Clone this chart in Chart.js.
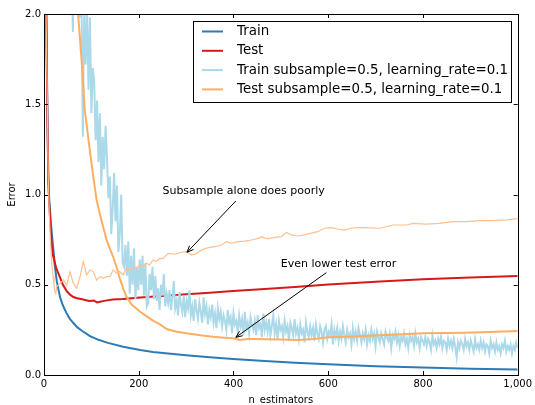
<!DOCTYPE html>
<html>
<head>
<meta charset="utf-8">
<script src="https://cdn.jsdelivr.net/npm/chart.js@4.4.1/dist/chart.umd.min.js"></script>
<style>
  html, body { margin: 0; padding: 0; background: #fff; }
  canvas { display: block; }
</style>
</head>
<body>
<canvas id="myChart" width="535" height="405"></canvas>
<script>
// Train (no subsample)
var trainX = [0, 3, 5, 7, 9, 11, 13, 15, 18, 20, 23, 27, 30, 34, 40, 48, 55, 62, 70, 80, 97, 115, 135, 167, 203, 230, 262, 300, 350, 399, 466, 530, 600, 700, 800, 900, 1000]
var trainY = [2.6, 2.25, 2.0, 1.5, 1.12, 0.97, 0.9, 0.83, 0.74, 0.69, 0.6, 0.52, 0.48, 0.43, 0.385, 0.34, 0.31, 0.288, 0.265, 0.245, 0.215, 0.195, 0.178, 0.157, 0.138, 0.128, 0.119, 0.11, 0.098, 0.089, 0.078, 0.068, 0.059, 0.049, 0.041, 0.035, 0.031]

// Test (no subsample)
var testX = [0, 3, 5, 7, 9, 11, 13, 15, 17, 19, 21, 23, 26, 30, 34, 40, 48, 55, 62, 70, 83, 95, 105, 112, 118, 130, 145, 167, 185, 203, 250, 301, 350, 399, 466, 530, 600, 700, 800, 900, 1000]
var testY = [2.6, 2.2, 1.95, 1.45, 1.08, 0.95, 0.86, 0.78, 0.7, 0.66, 0.645, 0.62, 0.59, 0.565, 0.54, 0.5, 0.465, 0.445, 0.432, 0.425, 0.418, 0.41, 0.413, 0.402, 0.406, 0.412, 0.418, 0.421, 0.425, 0.43, 0.437, 0.447, 0.455, 0.465, 0.476, 0.488, 0.502, 0.516, 0.53, 0.54, 0.548]

// Train subsample=0.5, learning_rate=0.1 (noisy): a few early points, then one value every 3 estimators from 55 to 1000
var subTrainHeadX = [0, 20, 40]
var subTrainHeadY = [3.2, 2.9, 2.6]
var subTrainStart = 55, subTrainStep = 3
var subTrainY = [
  2.45, 2.3, 1.9, 2.35, 2.2, 2.05, 2.25, 1.98, 2.12, 1.32,
  2.05, 1.72, 2.02, 1.58, 1.98, 1.45, 1.7, 1.62, 1.3, 1.52,
  1.18, 1.45, 1.05, 1.32, 1.14, 1.38, 1.2, 0.98, 1.1, 0.78,
  0.92, 1.12, 0.85, 1.05, 0.68, 0.78, 1.0, 0.62, 0.6, 0.72,
  0.55, 0.74, 0.45, 0.66, 0.5, 0.7, 0.42, 0.6, 0.47, 0.64,
  0.5, 0.66, 0.44, 0.62, 0.38, 0.4, 0.56, 0.47, 0.6, 0.42,
  0.55, 0.41, 0.48, 0.36, 0.5, 0.44, 0.56, 0.38, 0.45, 0.4,
  0.47, 0.36, 0.43, 0.52, 0.37, 0.41, 0.33, 0.46, 0.39, 0.35,
  0.44, 0.32, 0.41, 0.37, 0.47, 0.33, 0.38, 0.3, 0.42, 0.36,
  0.31, 0.4, 0.35, 0.29, 0.43, 0.34, 0.38, 0.28, 0.36, 0.32,
  0.39, 0.29, 0.34, 0.26, 0.37, 0.31, 0.35, 0.27, 0.33, 0.3,
  0.25, 0.36, 0.29, 0.32, 0.23, 0.34, 0.28, 0.3, 0.24, 0.33,
  0.27, 0.31, 0.22, 0.35, 0.26, 0.29, 0.23, 0.32, 0.28, 0.25,
  0.3, 0.22, 0.33, 0.26, 0.28, 0.21, 0.34, 0.25, 0.29, 0.24,
  0.31, 0.22, 0.27, 0.33, 0.23, 0.28, 0.2, 0.3, 0.25, 0.27,
  0.21, 0.3, 0.24, 0.27, 0.19, 0.29, 0.26, 0.22, 0.31, 0.23,
  0.26, 0.2, 0.28, 0.23, 0.25, 0.18, 0.29, 0.24, 0.21, 0.27,
  0.22, 0.26, 0.19, 0.28, 0.23, 0.2, 0.27, 0.24, 0.18, 0.25,
  0.27, 0.2, 0.24, 0.22, 0.28, 0.17, 0.25, 0.21, 0.26, 0.19,
  0.24, 0.2, 0.27, 0.22, 0.18, 0.25, 0.21, 0.23, 0.17, 0.26,
  0.2, 0.24, 0.19, 0.26, 0.22, 0.18, 0.23, 0.2, 0.25, 0.17,
  0.22, 0.19, 0.25, 0.2, 0.23, 0.16, 0.24, 0.21, 0.18, 0.23,
  0.2, 0.17, 0.24, 0.21, 0.19, 0.23, 0.15, 0.22, 0.2, 0.24,
  0.18, 0.22, 0.16, 0.21, 0.19, 0.23, 0.17, 0.2, 0.15, 0.22,
  0.19, 0.21, 0.16, 0.23, 0.18, 0.2, 0.15, 0.21, 0.19, 0.17,
  0.21, 0.16, 0.2, 0.18, 0.14, 0.22, 0.17, 0.19, 0.15, 0.2,
  0.17, 0.21, 0.15, 0.19, 0.18, 0.14, 0.2, 0.16, 0.19, 0.15,
  0.2, 0.16, 0.1, 0.18, 0.15, 0.19, 0.17, 0.14, 0.2, 0.16,
  0.18, 0.14, 0.19, 0.16, 0.13, 0.2, 0.15, 0.17, 0.14, 0.19,
  0.15, 0.18, 0.13, 0.17, 0.16, 0.12, 0.19, 0.15, 0.17, 0.13,
  0.18, 0.14, 0.16, 0.12, 0.17, 0.15, 0.19, 0.13, 0.16, 0.14,
  0.17, 0.12, 0.16, 0.14, 0.18, 0.15]

// Test subsample=0.5, learning_rate=0.1
var subTestX = [0, 20, 40, 60, 72, 80, 86, 95, 104, 111, 118, 125, 132, 139, 146, 153, 160, 167, 174, 185, 203, 217, 231, 245, 259, 280, 301, 330, 357, 380, 399, 413, 430, 450, 466, 500, 536, 570, 600, 640, 677, 710, 747, 800, 850, 888, 940, 1000]
var subTestY = [3.0, 2.75, 2.45, 2.2, 2.0, 1.72, 1.47, 1.28, 1.1, 0.97, 0.89, 0.82, 0.75, 0.7, 0.655, 0.6, 0.535, 0.48, 0.434, 0.39, 0.35, 0.325, 0.3, 0.28, 0.255, 0.24, 0.231, 0.22, 0.212, 0.207, 0.203, 0.194, 0.2, 0.199, 0.198, 0.197, 0.194, 0.2, 0.209, 0.212, 0.216, 0.22, 0.225, 0.231, 0.232, 0.234, 0.238, 0.244]

// Test subsample alone (no shrinkage), not in legend
var subOnlyX = [0, 3, 5, 7, 9, 11, 13, 15, 17, 19, 21, 23, 25, 27, 34, 41, 48, 55, 62, 69, 76, 83, 90, 97, 104, 111, 118, 125, 132, 139, 146, 153, 160, 167, 174, 181, 188, 195, 202, 209, 216, 223, 230, 237, 244, 251, 262,
  276, 290, 302, 311, 322, 333, 347, 361, 375, 385, 396, 410, 424, 438, 452, 459, 473, 487, 501, 512, 522, 536, 550, 564, 578, 592, 606, 620, 634, 648, 662, 676, 709, 737, 765, 779, 807, 835, 863, 891, 920, 948, 976, 1000]
var subOnlyY = [2.6, 2.2, 1.9, 1.5, 1.1, 0.9, 0.78, 0.68, 0.6, 0.55, 0.5, 0.46, 0.45, 0.49, 0.508, 0.526, 0.498, 0.572, 0.508, 0.48, 0.545, 0.628, 0.554, 0.582, 0.573, 0.526, 0.545, 0.536, 0.545, 0.545, 0.582, 0.563, 0.573, 0.554, 0.591, 0.582, 0.6, 0.591, 0.61, 0.6, 0.619, 0.61, 0.637, 0.628, 0.646, 0.645, 0.674,
  0.669, 0.68, 0.684, 0.665, 0.674, 0.693, 0.706, 0.711, 0.72, 0.739, 0.73, 0.739, 0.742, 0.748, 0.757, 0.765, 0.754, 0.762, 0.767, 0.79, 0.776, 0.77, 0.776, 0.786, 0.794, 0.813, 0.816, 0.809, 0.803, 0.813, 0.816, 0.816, 0.813, 0.831, 0.831, 0.84, 0.836, 0.84, 0.85, 0.85, 0.855, 0.855, 0.859, 0.866]

var legendLabels = ['Train', 'Test', 'Train subsample=0.5, learning_rate=0.1', 'Test subsample=0.5, learning_rate=0.1']
var xTicks = [0, 200, 400, 600, 800, 1000]
var yTicks = [0, 0.5, 1.0, 1.5, 2.0]

var BLUE = '#2c7bb6', RED = '#d7191c', LIGHTBLUE = '#abd9e9', ORANGE = '#fdae61', LIGHTORANGE = '#fdc08e'
var FONT = 'DejaVu Sans'

function pts(xs, ys) { return xs.map(function (x, i) { return { x: x, y: ys[i] } }) }

var subTrainPts = pts(subTrainHeadX, subTrainHeadY)
subTrainY.forEach(function (v, i) { subTrainPts.push({ x: subTrainStart + i * subTrainStep, y: v }) })

var notes = [
  { text: 'Subsample alone does poorly', tx: 250, ty: 1.02, ax: 405, ay: 0.964, hx: 302, hy: 0.68 },
  { text: 'Even lower test error', tx: 500, ty: 0.615, ax: 596, ay: 0.567, hx: 405, hy: 0.209 }
]

var frame = {
  id: 'frame',
  afterDatasetsDraw: function (chart) {
    var ctx = chart.ctx, a = chart.chartArea
    var xs = chart.scales.x, ys = chart.scales.y
    ctx.save()
    ctx.strokeStyle = '#000'
    ctx.lineWidth = 1
    ctx.strokeRect(Math.round(a.left) + 0.5, Math.round(a.top) + 0.5, Math.round(a.right - a.left), Math.round(a.bottom - a.top))
    ctx.beginPath()
    xTicks.forEach(function (t) {
      var px = Math.round(xs.getPixelForValue(t)) + 0.5
      ctx.moveTo(px, a.bottom); ctx.lineTo(px, a.bottom - 4)
      ctx.moveTo(px, a.top); ctx.lineTo(px, a.top + 4)
    })
    yTicks.forEach(function (t) {
      var py = Math.round(ys.getPixelForValue(t)) + 0.5
      ctx.moveTo(a.left, py); ctx.lineTo(a.left + 4, py)
      ctx.moveTo(a.right, py); ctx.lineTo(a.right - 4, py)
    })
    ctx.stroke()

    // annotations
    ctx.fillStyle = '#000'
    ctx.font = '11px "' + FONT + '"'
    ctx.textBaseline = 'middle'
    ctx.textAlign = 'left'
    notes.forEach(function (n) {
      ctx.fillText(n.text, xs.getPixelForValue(n.tx), ys.getPixelForValue(n.ty))
      var x0 = xs.getPixelForValue(n.ax), y0 = ys.getPixelForValue(n.ay)
      var x1 = xs.getPixelForValue(n.hx), y1 = ys.getPixelForValue(n.hy)
      var ang = Math.atan2(y1 - y0, x1 - x0), h = 7, w = 0.4
      ctx.beginPath()
      ctx.moveTo(x0, y0); ctx.lineTo(x1, y1)
      ctx.moveTo(x1 - h * Math.cos(ang - w), y1 - h * Math.sin(ang - w))
      ctx.lineTo(x1, y1)
      ctx.lineTo(x1 - h * Math.cos(ang + w), y1 - h * Math.sin(ang + w))
      ctx.stroke()
    })

    // legend box
    var colors = [BLUE, RED, LIGHTBLUE, ORANGE]
    ctx.fillStyle = '#fff'
    ctx.fillRect(193.5, 21.5, 318, 81)
    ctx.strokeStyle = '#000'
    ctx.strokeRect(193.5, 21.5, 318, 81)
    ctx.font = '13.4px "' + FONT + '"'
    legendLabels.forEach(function (lab, i) {
      var y = 31.5 + i * 19.3
      ctx.strokeStyle = colors[i]
      ctx.lineWidth = 2
      ctx.beginPath(); ctx.moveTo(202, y); ctx.lineTo(223, y); ctx.stroke()
      ctx.fillStyle = '#000'
      ctx.fillText(lab, 237, y)
    })
    ctx.restore()
  }
}

const config = {
  type: 'line',
  data: {
    datasets: [
      { label: 'subonly', data: pts(subOnlyX, subOnlyY), borderColor: LIGHTORANGE, borderWidth: 1.2, order: 0 },
      { label: legendLabels[3], data: pts(subTestX, subTestY), borderColor: ORANGE, borderWidth: 2, order: 1 },
      { label: legendLabels[2], data: subTrainPts, borderColor: LIGHTBLUE, borderWidth: 2, order: 2 },
      { label: legendLabels[1], data: pts(testX, testY), borderColor: RED, borderWidth: 2, order: 3 },
      { label: legendLabels[0], data: pts(trainX, trainY), borderColor: BLUE, borderWidth: 2, order: 4 }
    ]
  },
  options: {
    responsive: false,
    animation: false,
    devicePixelRatio: 1,
    layout: { padding: { top: 14, right: 17, left: 0, bottom: 0 } },
    elements: { point: { radius: 0 }, line: { tension: 0, fill: false } },
    plugins: { legend: { display: false }, tooltip: { enabled: false } },
    scales: {
      x: {
        type: 'linear', min: 0, max: 1000,
        afterBuildTicks: function (s) { s.ticks = xTicks.map(function (v) { return { value: v } }) },
        ticks: { color: '#000', font: { family: FONT, size: 10 }, padding: 3, maxRotation: 0 },
        grid: { display: false, drawTicks: false },
        border: { display: false },
        title: { display: true, text: 'n_estimators', color: '#000', font: { family: FONT, size: 10, lineHeight: 1 }, padding: { top: 0, bottom: 0 } },
        afterFit: function (s) { s.height = 30 }
      },
      y: {
        min: 0, max: 2,
        afterBuildTicks: function (s) { s.ticks = yTicks.map(function (v) { return { value: v } }) },
        ticks: { color: '#000', font: { family: FONT, size: 10 }, padding: 3, callback: function (v) { return v.toFixed(1) } },
        grid: { display: false, drawTicks: false },
        border: { display: false },
        title: { display: true, text: 'Error', color: '#000', font: { family: FONT, size: 10, lineHeight: 1 }, padding: { top: 7, bottom: 0 } },
        afterFit: function (s) { s.width = 44 }
      }
    }
  },
  plugins: [frame]
}

const myChart = new Chart(document.getElementById('myChart'), config)
</script>
</body>
</html>
